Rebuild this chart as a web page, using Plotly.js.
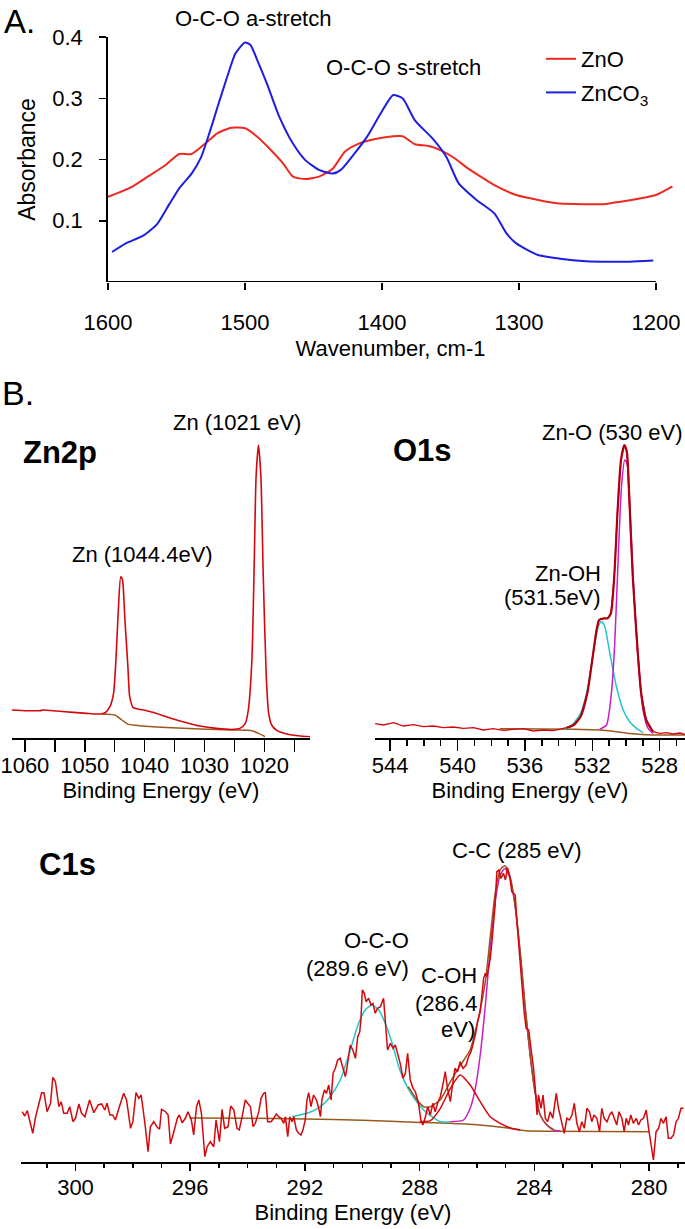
<!DOCTYPE html>
<html>
<head>
<meta charset="utf-8">
<script src="https://cdn.plot.ly/plotly-3.0.1.min.js"></script>
<style>html,body{margin:0;padding:0;background:#fff;}#chart{width:685px;height:1229px;}</style>
</head>
<body>
<div id="chart"></div>
<script>
// ---------- Panel A: FTIR ----------
const wnZnO = [1600,1583,1571,1558,1548,1539,1529,1520,1510,1500,1491,1481,1472,1465,1456,1446,1436,1427,1417,1404,1392,1385,1376,1366,1357,1347,1337,1328,1318,1302,1286,1270,1251,1238,1226,1213,1200,1188];
const absZnO = [0.139,0.155,0.172,0.191,0.209,0.209,0.226,0.243,0.252,0.251,0.237,0.215,0.193,0.172,0.168,0.172,0.185,0.213,0.226,0.234,0.238,0.238,0.225,0.222,0.215,0.202,0.185,0.172,0.158,0.142,0.134,0.128,0.127,0.127,0.131,0.136,0.142,0.156];
const wnZnCO3 = [1597,1587,1574,1564,1555,1548,1539,1532,1526,1520,1513,1507,1500,1496,1491,1484,1475,1465,1456,1446,1436,1430,1420,1411,1401,1392,1385,1376,1363,1353,1344,1331,1318,1309,1302,1286,1270,1251,1232,1219,1202];
const absZnCO3 = [0.049,0.063,0.076,0.095,0.128,0.153,0.177,0.204,0.243,0.286,0.335,0.373,0.391,0.387,0.362,0.324,0.270,0.226,0.199,0.183,0.177,0.183,0.210,0.237,0.275,0.305,0.300,0.264,0.234,0.204,0.161,0.134,0.112,0.079,0.063,0.044,0.038,0.034,0.033,0.033,0.035];
const seriesNamesA = ['ZnO','ZnCO<sub>3</sub>'];
const tickValsA = [1600,1500,1400,1300,1200];
const tickTextA = ['1600','1500','1400','1300','1200'];
const yTickValsA = [0.1,0.2,0.3,0.4];
const yTickTextA = ['0.1','0.2','0.3','0.4'];

// ---------- Panel B: Zn2p ----------
const zn2pE = [1062.2,1059.7,1057.5,1056.9,1054.7,1051.9,1049.7,1047.5,1046.6,1045.8,1045.2,1044.8,1044.4,1044.0,1043.7,1043.3,1042.8,1042.5,1041.9,1040.2,1038.0,1035.2,1033.0,1030.8,1028.0,1025.2,1024.1,1023.2,1022.7,1022.1,1021.7,1021.4,1021.0,1020.6,1020.2,1019.7,1019.3,1018.8,1017.9,1016.3,1014.0,1012.4];
const zn2pI = [27.7,27,27,27.7,26.7,25.3,24.3,23.7,25,31,44,77.7,127.7,161,157.7,117.7,71,41,30,27.7,24.3,18.7,15,11.7,9.3,8.3,9.3,14.3,27.7,77.7,177.7,261,292.7,261,161,61,24.3,12.7,7,3.7,1.7,1];
const zn2pBgE = [1047.2,1045.0,1043.8,1042.7,1040.8,1036.3,1030.75,1025.2,1022.1,1021.0,1019.9];
const zn2pBgI = [23.7,22.7,17.7,13.3,12,10.3,8.7,7.7,7,4.3,1];
const zn2pTickVals = [1060,1050,1040,1030,1020];
const zn2pTickText = ['1060','1050','1040','1030','1020'];
const zn2pMinorVals = [1055,1045,1035,1025,1015];

// ---------- Panel B: O1s ----------
const o1sE = [544.89,544.40,543.80,543.21,542.62,542.03,541.43,540.84,540.25,539.65,539.06,538.47,537.88,537.29,536.69,536.10,535.51,534.92,534.32,533.93,533.53,533.1,532.7,532.3,531.95,531.75,531.6,531.3,531.1,530.9,530.7,530.5,530.3,530.1,529.95,529.8,529.6,529.3,529.1,528.8,528.4,528.0,527.6,527.2,526.8,526.5];
const o1sI = [14.0,12.7,15.0,11.7,13.0,11.0,11.7,10.0,10.7,9.3,10.0,7.7,9.0,7.3,8.3,9.0,6.7,7.7,7.0,8.3,10.0,12.7,21,44.3,84.3,107.7,117.7,119.3,119.3,124.3,161,227.7,277.7,292.7,286,237.7,161,84.3,44.3,17.7,6,4.3,5,3.7,4.7,3.3];
const o1sEnvE = [533.53,533.1,532.7,532.3,531.95,531.75,531.6,531.3,531.1,530.9,530.7,530.5,530.3,530.1,529.95,529.8,529.6,529.3,529.1,528.8,528.4];
const o1sEnvI = [10.0,12.7,21,44.3,84.3,107.7,117.7,119.3,119.3,124.3,161,227.7,277.7,292.7,286,237.7,161,84.3,44.3,17.7,6];
const o1sOHE = [533.7,533.3,532.7,532.3,531.95,531.65,531.46,531.26,530.96,530.57,530.17,529.78,529.38,528.99];
const o1sOHI = [8.3,11,24.3,47.7,84.3,111,116,111,84.3,51,27.7,16,9.3,5];
const o1sOE = [531.56,531.16,530.87,530.67,530.47,530.27,530.08,529.94,529.78,529.58,529.28,528.99,528.69,528.4];
const o1sOI = [8.3,12.7,44.3,94.3,177.7,251,277.7,274.3,234.3,161,77.7,27.7,9.3,4.3];
const o1sBgE = [537.5,533.1,531.56,530.57,529.78,528.8,527.5,526.5];
const o1sBgI = [9,8.5,7.7,6,4.3,3,2.7,2.7];
const o1sTickVals = [544,540,536,532,528];
const o1sTickText = ['544','540','536','532','528'];
const o1sMinorVals = [543,542,541,539,538,537,535,534,533,531,530,529,527];

// ---------- Panel B: C1s ----------
const c1sE = [301.86,301.77,301.68,301.57,301.49,301.39,301.30,301.18,301.10,300.99,300.87,300.79,300.70,300.58,300.50,300.41,300.29,300.20,300.09,300.00,
299.88,299.79,299.67,299.51,299.36,299.21,299.09,298.98,298.90,298.80,298.70,298.61,298.47,298.32,298.22,298.08,298.00,
297.89,297.79,297.71,297.58,297.47,297.39,297.27,297.15,297.07,297.00,
296.86,296.77,296.69,296.57,296.45,296.38,296.28,296.17,296.08,
295.96,295.88,295.78,295.70,295.61,295.49,295.41,295.30,295.18,295.10,
294.98,294.89,294.80,294.68,294.59,294.48,294.37,294.29,294.19,
294.08,294.00,293.90,293.81,293.73,293.61,293.53,293.44,293.38,293.30,293.18,293.09,293.00,
292.92,292.83,292.74,292.68,292.60,292.53,292.45,292.39,292.30,292.22,292.14,292.07,
291.99,291.93,291.87,291.79,291.70,291.60,291.52,291.46,291.41,291.32,291.25,291.17,291.09,291.02,
290.94,290.86,290.77,290.67,290.59,290.53,290.42,290.33,290.24,290.16,290.09,290.05,290.00,
289.93,289.87,289.78,289.70,289.63,289.55,289.47,289.37,289.26,289.16,289.12,289.02,
288.93,288.85,288.77,288.68,288.58,288.50,288.42,288.33,288.23,288.15,288.04,
287.96,287.89,287.80,287.72,287.63,287.54,287.46,287.36,287.28,
287.17,287.11,287.03,286.93,286.84,286.77,286.68,286.59,286.49,286.38,
286.30,286.21,286.12,286.06,285.98,285.89,285.83,285.77,285.71,285.66,
285.60,285.54,285.48,285.42,285.37,285.31,285.24,285.17,285.08,285.01,
284.94,284.87,284.79,284.73,284.67,284.61,284.52,284.44,284.36,284.29,
284.20,284.12,284.03,283.97,283.91,283.86,283.77,283.70,283.62,283.54,
283.45,283.36,283.24,283.16,283.04,282.96,282.87,282.78,282.69,282.61,
282.52,282.43,282.35,282.26,282.17,282.08,282.00,281.92,281.82,281.73,
281.65,281.57,281.47,281.38,281.30,281.22,281.13,281.05,280.95,280.87,
280.80,280.72,280.64,280.55,280.45,280.37,280.29,280.20,280.10,280.02,
279.94,279.85,279.76,279.67,279.59,279.50,279.41,279.33,279.24,279.15,
279.06,278.98,278.89,278.80];
const c1sI = [50.0,45.7,51.0,36.7,28.4,45.0,55.0,69.0,69.0,50.0,58.4,84.4,80.0,55.0,60.0,48.4,48.4,55.0,40.0,43.4,
57.7,48.4,45.0,61.7,49.0,56.7,57.7,51.7,58.4,46.7,46.7,41.7,55.0,68.4,61.7,33.4,40.0,
69.0,63.4,66.7,38.4,10.0,35.0,40.0,34.4,32.4,52.4,
50.0,46.7,17.7,30.0,43.4,46.7,39.0,43.4,50.0,
41.7,26.7,55.0,61.7,48.4,5.0,15.0,20.0,15.0,41.7,
20.0,52.4,33.4,35.0,55.7,51.7,33.4,31.7,45.0,
61.7,58.4,55.0,35.0,38.4,50.0,63.4,68.4,69.0,40.0,40.0,43.4,47.7,
45.0,43.4,38.4,45.0,25.0,45.0,40.0,45.0,31.7,28.4,26.7,31.7,
41.7,61.7,69.0,55.0,66.7,61.7,53.4,45.0,61.7,71.7,68.4,76.7,61.7,88.4,
93.4,101.7,103.4,91.7,85.0,95.0,116.7,111.7,103.4,125.0,130.0,141.7,171.7,
168.4,160.0,163.4,156.7,158.4,148.4,153.4,155.0,163.4,131.7,111.7,118.4,
113.4,116.7,108.4,98.4,83.4,88.4,108.4,81.7,73.4,70.0,58.4,
41.7,36.7,45.0,55.0,46.7,58.4,50.0,60.0,65.0,
80.0,90.0,73.4,60.0,80.0,93.4,90.0,100.0,93.4,96.7,
105.0,110.0,120.0,126.7,140.0,150.0,166.7,183.4,188.4,185.0,
193.4,203.4,220.0,240.0,256.7,290.0,291.7,283.4,288.4,281.7,
294.0,286.7,270.0,268.4,266.7,240.0,206.7,173.4,150.0,133.4,
131.7,113.4,93.4,73.4,46.7,66.7,53.4,66.7,43.4,40.0,
50.0,43.4,68.4,53.4,40.0,28.4,43.4,41.7,46.7,58.4,
38.4,30.0,40.0,33.4,53.4,50.0,40.0,46.7,43.4,30.0,
53.4,43.4,40.0,46.7,50.0,43.4,36.7,50.0,43.4,30.0,
43.4,36.7,46.7,38.4,43.4,36.7,41.7,43.4,51.7,33.4,
16.7,1.7,30.0,33.4,43.4,38.4,45.0,23.4,23.4,26.7,
40.0,43.4,53.4,53.4];
const c1sOCOE = [292.45,291.93,291.46,291.12,290.77,290.42,290.13,289.90,289.66,289.43,289.20,288.96,288.73,288.44,288.15,287.86,287.57,287.28,286.93];
const c1sOCOI = [45.0,48.4,55.0,65.0,81.7,111.7,138.4,151.7,156.7,151.7,138.4,118.4,95.0,75.0,61.7,51.7,45.0,40.0,40.0];
const c1sCOHE = [288.0,287.63,287.28,286.93,286.59,286.24,285.89,285.54,285.19,284.85,284.50];
const c1sCOHI = [40,41,53.4,73.4,86.7,76.7,60,45,38.4,34,31.7];
const c1sCCE = [286.93,286.47,286.24,286.06,285.89,285.71,285.54,285.37,285.19,285.03,284.85,284.68,284.50,284.33,284.15,283.98,283.80,283.57,283.33,283.10];
const c1sCCI = [40,41.7,53.4,73.4,106.7,156.7,213.4,260,286.7,293.3,283.4,256.7,210,156.7,106.7,70,46.7,36.7,31.7,30.7];
const c1sEnvE = [288.4,288.09,287.86,287.63,287.28,286.93,286.59,286.24,285.98,285.71,285.54,285.37,285.19,285.03,284.85,284.68,284.50,284.33,284.15,283.98,283.80,283.57,283.33];
const c1sEnvI = [75,61.7,55,55,62,80,96,112,140,180,225,268,292,296,285,258,211,157,107,70,47,37,32];
const c1sBgE = [296.03,294,292,290,288,287,285.9,285,284.3,283.5,280];
const c1sBgI = [43.7,43.4,42.7,41.5,39.3,38.5,36.7,34,31,30.5,30];
const c1sTickVals = [300,296,292,288,284,280];
const c1sTickText = ['300','296','292','288','284','280'];
const c1sMinorVals = [301,299,298,297,295,294,293,291,290,289,287,286,285,283,282,281,279];

// ---------- styling ----------
const W = 685, H = 1229;
const px = v => v / W;
const py = v => 1 - v / H;
const FONT = 'Liberation Sans, Arial, Helvetica, sans-serif';
const RED_A = '#ec2a22', BLUE_A = '#1c1fe0';
const RED = '#d4080c', DKRED = '#b00010', BROWN = '#9a5a1e', CYAN = '#26c4c8', MAGENTA = '#c81ec8';

function ln(x, y, xa, ya, color, width, name, shape, show) {
  return {x: x, y: y, xaxis: xa, yaxis: ya, type: 'scatter', mode: 'lines', name: name || '',
    showlegend: !!show, legendgroup: name || undefined, hoverinfo: 'skip',
    line: {color: color, width: width, shape: shape || 'linear', smoothing: 0.6}};
}

const traces = [
  ln(wnZnO, absZnO, 'x', 'y', RED_A, 2, seriesNamesA[0], 'spline', true),
  ln(wnZnCO3, absZnCO3, 'x', 'y', BLUE_A, 2, seriesNamesA[1], 'spline', true),
  // Zn2p
  ln(zn2pBgE, zn2pBgI, 'x2', 'y2', BROWN, 1.5, 'Zn2p background', 'spline'),
  ln(zn2pE, zn2pI, 'x2', 'y2', RED, 1.6, 'Zn2p', 'spline'),
  // O1s
  ln(o1sBgE, o1sBgI, 'x3', 'y3', BROWN, 1.5, 'O1s background', 'spline'),
  ln(o1sOHE, o1sOHI, 'x3', 'y3', CYAN, 1.5, 'Zn-OH', 'spline'),
  ln(o1sOE, o1sOI, 'x3', 'y3', MAGENTA, 1.5, 'Zn-O', 'spline'),
  ln(o1sE, o1sI, 'x3', 'y3', RED, 1.3, 'O1s', 'linear'),
  ln(o1sEnvE, o1sEnvI, 'x3', 'y3', DKRED, 2.2, 'O1s envelope', 'spline'),
  // C1s
  ln(c1sBgE, c1sBgI, 'x4', 'y4', BROWN, 1.5, 'C1s background', 'spline'),
  ln(c1sOCOE, c1sOCOI, 'x4', 'y4', CYAN, 1.5, 'O-C-O', 'spline'),
  ln(c1sCCE, c1sCCI, 'x4', 'y4', MAGENTA, 1.5, 'C-C', 'spline'),
  ln(c1sEnvE, c1sEnvI, 'x4', 'y4', '#a0501e', 1.5, 'C1s envelope', 'spline'),
  ln(c1sCOHE, c1sCOHI, 'x4', 'y4', RED, 1.5, 'C-OH', 'spline'),
  ln(c1sE, c1sI, 'x4', 'y4', RED, 1.5, 'C1s', 'linear')
];

const xpsAxisBase = {showline: true, linewidth: 1.8, linecolor: '#000', ticks: 'outside', tickwidth: 1.5,
  tickcolor: '#000', showgrid: false, zeroline: false, tickmode: 'array', fixedrange: true,
  tickfont: {size: 22, family: FONT, color: '#000'}};
const hiddenY = {visible: false, range: [0, 300], fixedrange: true, showgrid: false, zeroline: false};

function ann(text, x, y, opts) {
  return Object.assign({text: text, x: px(x), y: py(y), xref: 'paper', yref: 'paper', showarrow: false,
    xanchor: 'center', yanchor: 'middle', font: {size: 22, family: FONT, color: '#000'}}, opts || {});
}
const bold = (t, x, y) => ann('<b>' + t + '</b>', x, y, {font: {size: 31, family: FONT, color: '#000'}});

const layout = {
  width: W, height: H, autosize: false,
  margin: {l: 0, r: 0, t: 0, b: 0, pad: 0},
  paper_bgcolor: '#fff', plot_bgcolor: 'rgba(0,0,0,0)',
  font: {family: FONT, size: 22, color: '#000'},
  showlegend: true,
  legend: {x: px(541), y: py(38), xanchor: 'left', yanchor: 'top', bgcolor: 'rgba(0,0,0,0)',
    font: {size: 22, family: FONT}, traceorder: 'grouped', tracegroupgap: 2, itemwidth: 30},
  xaxis: {domain: [px(108), px(673)], range: [1600, 1187.6], anchor: 'y', tickmode: 'array',
    tickvals: tickValsA, ticktext: tickTextA, ticks: 'outside', ticklen: 7, tickwidth: 1.5, tickcolor: '#000',
    showline: false, showgrid: false, zeroline: false, fixedrange: true, ticklabelstandoff: 14,
    tickfont: {size: 22}, title: {text: 'Wavenumber, cm-1', font: {size: 22}, standoff: 6}},
  yaxis: {domain: [py(282), py(37)], range: [0, 0.4], anchor: 'x', tickmode: 'array',
    tickvals: yTickValsA, ticktext: yTickTextA, ticks: 'outside', ticklen: 7, tickwidth: 1.5, tickcolor: '#000',
    showline: true, linewidth: 1.8, linecolor: '#000', showgrid: false, zeroline: false, fixedrange: true,
    tickfont: {size: 22}, ticklabelstandoff: 12, title: {text: 'Absorbance', font: {size: 23}, standoff: 10}},
  xaxis2: Object.assign({}, xpsAxisBase, {domain: [px(11.7), px(310)], range: [1062.2, 1012.4], anchor: 'y2',
    tickvals: zn2pTickVals, ticktext: zn2pTickText, ticklen: 12, ticklabelstandoff: -5,
    minor: {tickmode: 'array', tickvals: zn2pMinorVals, ticks: 'outside', ticklen: 12, tickwidth: 1.5, tickcolor: '#000', showgrid: false},
    title: {text: 'Binding Energy (eV)', font: {size: 22}, standoff: 0}}),
  yaxis2: Object.assign({}, hiddenY, {domain: [py(737.7), py(437.7)], anchor: 'x2'}),
  xaxis3: Object.assign({}, xpsAxisBase, {domain: [px(375), 1], range: [544.9, 526.5], anchor: 'y3',
    tickvals: o1sTickVals, ticktext: o1sTickText, ticklen: 11, ticklabelstandoff: -4,
    minor: {tickmode: 'array', tickvals: o1sMinorVals, ticks: 'outside', ticklen: 6, tickwidth: 1.5, tickcolor: '#000', showgrid: false},
    title: {text: 'Binding Energy (eV)', font: {size: 22}, standoff: 0}}),
  yaxis3: Object.assign({}, hiddenY, {domain: [py(737.7), py(437.7)], anchor: 'x3'}),
  xaxis4: Object.assign({}, xpsAxisBase, {domain: [px(21), 1], range: [301.9, 278.75], anchor: 'y4',
    tickvals: c1sTickVals, ticktext: c1sTickText, ticklen: 7, ticklabelstandoff: -2,
    minor: {tickmode: 'array', tickvals: c1sMinorVals, ticks: 'outside', ticklen: 4, tickwidth: 1.5, tickcolor: '#000', showgrid: false},
    title: {text: 'Binding Energy (eV)', font: {size: 22}, standoff: 6}}),
  yaxis4: Object.assign({}, hiddenY, {domain: [py(1161.7), py(861.7)], anchor: 'x4'}),
  shapes: [
    {type: 'line', xref: 'x', yref: 'y', x0: tickValsA[0], x1: tickValsA[tickValsA.length - 1], y0: 0, y1: 0,
      line: {color: '#000', width: 1.8}}
  ],
  annotations: [
    ann('A.', 19, 22, {font: {size: 33, family: FONT, color: '#000'}}),
    ann('B.', 18, 393, {font: {size: 34, family: FONT, color: '#000'}}),
    ann('O-C-O a-stretch', 253, 18),
    ann('O-C-O s-stretch', 403, 68),
    bold('Zn2p', 60, 452),
    bold('O1s', 422, 450),
    bold('C1s', 67, 865),
    ann('Zn (1021 eV)', 237, 423),
    ann('Zn (1044.4eV)', 142, 555),
    ann('Zn-O (530 eV)', 612, 432),
    ann('Zn-OH', 603, 573, {xanchor: 'right'}),
    ann('(531.5eV)', 603, 598, {xanchor: 'right'}),
    ann('C-C (285 eV)', 517, 850),
    ann('O-C-O', 411, 940, {xanchor: 'right'}),
    ann('(289.6 eV)', 411, 968, {xanchor: 'right'}),
    ann('C-OH', 479, 975, {xanchor: 'right'}),
    ann('(286.4', 479, 1003, {xanchor: 'right'}),
    ann('eV)', 477, 1029, {xanchor: 'right'})
  ]
};

Plotly.newPlot('chart', traces, layout, {staticPlot: true, displayModeBar: false});
</script>
</body>
</html>
